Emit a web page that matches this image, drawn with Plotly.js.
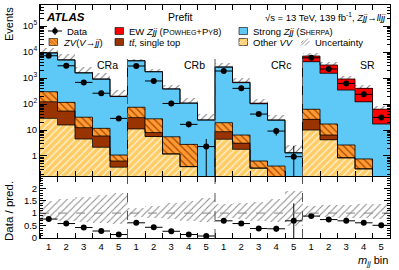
<!DOCTYPE html>
<html><head><meta charset="utf-8">
<script src="https://cdn.plot.ly/plotly-3.0.1.min.js"></script>
<style>html,body{margin:0;padding:0;background:#fff}#plot{width:399px;height:270px}</style>
</head><body><div id="plot"></div>
<script>
// ---- data ----
const binLabels = ['1','2','3','4','5','1','2','3','4','5','1','2','3','4','5','1','2','3','4','5'];
const regionNames = ['CRa','CRb','CRc','SR'];
const otherVV   = [28, 15.6, 4.5, 2.16, 0.37,  11, 5.6, 1.2, 0.39, 0,  4.4, 1.8, 0.34, 0, 0,  10, 4.2, 0.85, 0.32, 0];
const ttbar     = [94, 38, 7.8, 3.7, 0.27,     19, 2.4, 0, 0, 0,       4.2, 1.3, 0, 0, 0,     15.7, 2.2, 0, 0, 0];
const zvjj      = [175, 62, 18.7, 5.7, 0.45,   45, 19, 4.3, 2.4, 0,    10.5, 3.3, 0.3, 0.41, 0, 37, 10.6, 1.8, 0.45, 0];
const strongZjj = [8800, 4780, 1520, 880, 193, 4480, 1700, 370, 104, 24, 2580, 656, 102, 23.2, 1.3, 4190, 1500, 342, 121, 17];
const ewZjj     = [380, 200, 70, 40, 6,        140, 55, 12, 3, 0.7,    100, 28, 5, 1, 0.06,   2750, 1650, 570, 278, 46];
const dataCounts= [7200, 2960, 680, 260, 28,   2900, 770, 105, 16.5, 2.3, 1860, 400, 41, 9.1, 0.94, 6000, 2220, 620, 236, 30.6];
const dataErrUp = [85, 54, 26, 16, 5.3,        54, 28, 10, 4, 2.2,     43, 20, 6.4, 3, 1.5,   77, 47, 25, 15, 5.5];
const dataErrDn = [85, 54, 26, 16, 5.3,        54, 28, 10, 4, 2.2,     43, 20, 6.4, 3, 0.94,  77, 47, 25, 15, 5.5];
const ratio     = [0.76, 0.58, 0.42, 0.28, 0.14, 0.61, 0.43, 0.27, 0.14, 0.08, 0.69, 0.58, 0.38, 0.37, 0.69, 0.88, 0.74, 0.69, 0.61, 0.51];
const ratioErrUp= [0.01,0.01,0.02,0.02,0.03, 0.01,0.02,0.03,0.04,0.05, 0.02,0.03,0.06,0.12,0.7, 0.01,0.02,0.03,0.04,0.09];
const ratioErrDn= [0.01,0.01,0.02,0.02,0.03, 0.01,0.02,0.03,0.04,0.05, 0.02,0.03,0.06,0.12,0.69, 0.01,0.02,0.03,0.04,0.09];
const uncUp     = [0.5, 0.58, 0.65, 0.72, 0.8,  0.2, 0.3, 0.4, 0.5, 0.6,  0.35, 0.4, 0.45, 0.55, 0.9,  0.3, 0.32, 0.33, 0.35, 0.37];
const uncDn     = [0.25, 0.3, 0.35, 0.4, 0.45,  0.15, 0.2, 0.25, 0.3, 0.35,  0.2, 0.25, 0.3, 0.35, 0.5,  0.15, 0.17, 0.18, 0.2, 0.22];

// ---- helpers ----
const xs = binLabels.map((_, i) => i + 1);
const edges = xs.map(x => x - 0.5).concat([xs.length + 0.5]);
const FLOOR = 1e-3;
const comps = [
  {name:'Other VV', vals: otherVV,   color:'#ffcc66', pat:{shape:'/',  fgcolor:'#fff3d6', bgcolor:'#ffcc66', size:5, solidity:0.25}},
  {name:'ttbar',    vals: ttbar,     color:'#993300', pat:null},
  {name:'ZV',       vals: zvjj,      color:'#ff9933', pat:{shape:'\\', fgcolor:'#a84a00', bgcolor:'#ff9933', size:5, solidity:0.25}},
  {name:'Strong',   vals: strongZjj, color:'#5ec8f7', pat:null},
  {name:'EW',       vals: ewZjj,     color:'#ff0000', pat:null}
];
const traces = [];
let cum = xs.map(() => 0);
const tops = [];
comps.forEach(c => {
  const base = cum.map(v => Math.max(v, FLOOR));
  const marker = {color: c.color, line: {width: 0}};
  if (c.pat) marker.pattern = Object.assign({fillmode:'replace'}, c.pat);
  traces.push({type:'bar', x: xs, y: c.vals, base: base, width: 1, marker: marker,
    xaxis:'x', yaxis:'y', showlegend:false, hoverinfo:'skip'});
  cum = cum.map((v, i) => v + c.vals[i]);
  tops.push(cum.slice());
});
const total = cum;
// uncertainty hatch above total
traces.push({type:'bar', x: xs, y: total.map((t, i) => t * uncUp[i]), base: total, width: 1,
  marker:{color:'rgba(0,0,0,0)', line:{width:0},
    pattern:{shape:'/', fgcolor:'#777', bgcolor:'rgba(0,0,0,0)', size:5, solidity:0.2, fillmode:'replace'}},
  xaxis:'x', yaxis:'y', showlegend:false, hoverinfo:'skip'});
// step outlines
tops.forEach(t => {
  const yv = t.map(v => Math.max(v, FLOOR));
  traces.push({type:'scatter', mode:'lines', x: edges, y: yv.concat([yv[yv.length-1]]),
    line:{shape:'hv', color:'#000', width:0.8}, xaxis:'x', yaxis:'y', showlegend:false, hoverinfo:'skip'});
});
// data points
traces.push({type:'scatter', mode:'markers', x: xs, y: dataCounts, xaxis:'x', yaxis:'y',
  marker:{color:'#000', size:6},
  error_x:{type:'constant', value:0.5, width:0, thickness:1, color:'#000'},
  error_y:{type:'data', symmetric:false, array:dataErrUp, arrayminus:dataErrDn, width:0, thickness:1, color:'#000'},
  showlegend:false, hoverinfo:'skip'});
// ratio band
traces.push({type:'bar', x: xs, y: xs.map((_, i) => uncUp[i] + uncDn[i]), base: xs.map((_, i) => 1 - uncDn[i]), width: 1,
  marker:{color:'rgba(0,0,0,0)', line:{width:0},
    pattern:{shape:'/', fgcolor:'#888', bgcolor:'rgba(0,0,0,0)', size:5, solidity:0.2, fillmode:'replace'}},
  xaxis:'x2', yaxis:'y2', showlegend:false, hoverinfo:'skip'});
traces.push({type:'scatter', mode:'markers', x: xs, y: ratio, xaxis:'x2', yaxis:'y2',
  marker:{color:'#000', size:6},
  error_x:{type:'constant', value:0.5, width:0, thickness:1, color:'#000'},
  error_y:{type:'data', symmetric:false, array:ratioErrUp, arrayminus:ratioErrDn, width:0, thickness:1, color:'#000'},
  showlegend:false, hoverinfo:'skip'});

// ---- layout geometry (pixels -> paper) ----
const L = 40, R = 390, T = 5, B = 238;
const PX = p => (p - L) / (R - L);
const PY = p => (B - p) / (B - T);
const FONT = 'Liberation Sans, Arial, Helvetica, sans-serif';
const shapes = [];
const ann = [];
// region boundaries
[5.5, 10.5, 15.5].forEach(xb => {
  shapes.push({type:'line', xref:'x', yref:'paper', x0:xb, x1:xb, y0:PY(176), y1:PY(55), line:{color:'#555', width:1, dash:'dash'}});
  shapes.push({type:'line', xref:'x2', yref:'paper', x0:xb, x1:xb, y0:0, y1:PY(177), line:{color:'#555', width:1, dash:'dash'}});
});
shapes.push({type:'line', xref:'x2', yref:'y2', x0:0.5, x1:20.5, y0:1, y1:1, line:{color:'#888', width:1, dash:'dash'}});
// region labels
const regionLabelX = [107, 194, 281, 367];
regionNames.forEach((r, i) => ann.push({xref:'paper', yref:'paper', x:PX(regionLabelX[i]), y:PY(65), text:r,
  showarrow:false, xanchor:'center', yanchor:'middle', font:{family:FONT, size:10.5, color:'#000'}}));
// header texts
ann.push({xref:'paper', yref:'paper', x:PX(44), y:PY(17), text:'<b><i>ATLAS</i></b>', showarrow:false, xanchor:'left', yanchor:'middle', font:{family:FONT, size:11.5, color:'#000'}});
ann.push({xref:'paper', yref:'paper', x:PX(180), y:PY(17), text:'Prefit', showarrow:false, xanchor:'center', yanchor:'middle', font:{family:FONT, size:10.5, color:'#000'}});
ann.push({xref:'paper', yref:'paper', x:PX(388), y:PY(17), text:'√s = 13 TeV, 139 fb<sup>-1</sup>, <i>Zjj</i>→<i>lljj</i>', showarrow:false, xanchor:'right', yanchor:'middle', font:{family:FONT, size:9.5, color:'#000'}});
// legend
const legRows = [31, 42];
const legItems = [
  {kind:'data', x:48, row:0, text:'Data'},
  {kind:'box', x:115, row:0, color:'#ff0000', text:'EW <i>Zjj</i> (P<span style="font-size:7px">OWHEG</span>+P<span style="font-size:7px">Y</span>8)'},
  {kind:'box', x:239, row:0, color:'#5ec8f7', text:'Strong <i>Zjj</i> (S<span style="font-size:7px">HERPA</span>)'},
  {kind:'box', x:49, row:1, color:'#ff9933', hatch:'\\', hcol:'#a84a00', text:'<i>ZV</i>(<i>V</i>→<i>jj</i>)'},
  {kind:'box', x:115, row:1, color:'#993300', text:'<i>t</i><i>t̄</i>, single top'},
  {kind:'box', x:239, row:1, color:'#ffcc66', hatch:'/', hcol:'#fff3d6', text:'Other <i>VV</i>'},
  {kind:'hatch', x:301, row:1, hcol:'#777', text:'Uncertainty'}
];
legItems.forEach(it => {
  const yc = legRows[it.row];
  let tx;
  if (it.kind === 'data') {
    shapes.push({type:'line', xref:'paper', yref:'paper', x0:PX(48), x1:PX(62), y0:PY(yc), y1:PY(yc), line:{color:'#000', width:1}});
    shapes.push({type:'line', xref:'paper', yref:'paper', x0:PX(55), x1:PX(55), y0:PY(yc-4), y1:PY(yc+4), line:{color:'#000', width:1}});
    shapes.push({type:'circle', xref:'paper', yref:'paper', x0:PX(52.5), x1:PX(57.5), y0:PY(yc-2.5), y1:PY(yc+2.5), fillcolor:'#000', line:{color:'#000', width:0.5}});
    tx = 65;
  } else {
    const x0 = it.x, x1 = it.x + 8.5, y0 = yc - 3.5, y1 = yc + 3.5;
    if (it.kind === 'box') {
      shapes.push({type:'rect', xref:'paper', yref:'paper', x0:PX(x0), x1:PX(x1), y0:PY(y1), y1:PY(y0), fillcolor:it.color, line:{color:'#000', width:0.6}});
    }
    if (it.hatch || it.kind === 'hatch') {
      const dir = it.hatch || '/';
      const segs = dir === '/' ?
        [[x0, y1-2.5, x0+2.5, y1-5], [x0, y1, x0+7, y0], [x0+4, y1, x1, y1-4.5]] :
        [[x0, y0+2.5, x0+2.5, y0+5], [x0, y0, x0+7, y1], [x0+4, y0, x1, y0+4.5]];
      segs.forEach(s => shapes.push({type:'line', xref:'paper', yref:'paper', x0:PX(s[0]), y0:PY(s[1]), x1:PX(s[2]), y1:PY(s[3]), line:{color:it.hcol, width:0.8}}));
    }
    tx = x1 + 3.5;
  }
  ann.push({xref:'paper', yref:'paper', x:PX(tx), y:PY(yc), text:it.text, showarrow:false, xanchor:'left', yanchor:'middle', font:{family:FONT, size:9.5, color:'#000'}});
});
// axis titles
ann.push({xref:'paper', yref:'paper', x:PX(9), y:PY(5), text:'Events', textangle:-90, showarrow:false, xanchor:'center', yanchor:'top', font:{family:FONT, size:11, color:'#000'}});
ann.push({xref:'paper', yref:'paper', x:PX(9), y:PY(179), text:'Data / pred.', textangle:-90, showarrow:false, xanchor:'center', yanchor:'top', font:{family:FONT, size:11.5, color:'#000'}});
ann.push({xref:'paper', yref:'paper', x:PX(390), y:PY(261), text:'<i>m</i><sub><i>jj</i></sub> bin', showarrow:false, xanchor:'right', yanchor:'middle', font:{family:FONT, size:11, color:'#000'}});

const axBase = {showline:true, linecolor:'#000', linewidth:1, mirror:'allticks', zeroline:false, showgrid:false,
  tickfont:{family:FONT, size:9.5, color:'#000'}, tickcolor:'#000'};
const layout = {
  width:399, height:270, margin:{l:L, r:399-R, t:T, b:270-B}, paper_bgcolor:'#fff', plot_bgcolor:'#fff',
  barmode:'overlay', bargap:0, showlegend:false, font:{family:FONT, color:'#000'},
  xaxis: Object.assign({}, axBase, {anchor:'y', domain:[0,1], range:[0.5, 20.5], tickvals:xs, ticktext:binLabels, ticks:'', showticklabels:false,
    minor:{ticks:'inside', ticklen:5, tick0:0.5, dtick:1, tickcolor:'#000', showgrid:false}}),
  yaxis: Object.assign({}, axBase, {anchor:'x', type:'log', domain:[PY(176), 1], range:[-0.77, 5.81],
    tickvals:[1,10,100,1e3,1e4,1e5], ticktext:['1','10','10<sup>2</sup>','10<sup>3</sup>','10<sup>4</sup>','10<sup>5</sup>'],
    ticks:'inside', ticklen:7, minor:{ticks:'inside', ticklen:3.5, dtick:'D1', tickcolor:'#000', showgrid:false}}),
  xaxis2: Object.assign({}, axBase, {anchor:'y2', domain:[0,1], range:[0.5, 20.5], tickvals:xs, ticktext:binLabels, ticks:'',
    minor:{ticks:'inside', ticklen:5, tick0:0.5, dtick:1, tickcolor:'#000', showgrid:false}}),
  yaxis2: Object.assign({}, axBase, {anchor:'x2', domain:[0, PY(177)], range:[0, 2.45],
    tickvals:[0,0.5,1,1.5,2], ticktext:['0','0.5','1','1.5','2'], ticks:'inside', ticklen:6,
    minor:{ticks:'inside', ticklen:3, dtick:0.1, tickcolor:'#000', showgrid:false}}),
  shapes: shapes, annotations: ann
};
Plotly.newPlot('plot', traces, layout, {staticPlot:true, displayModeBar:false});
</script></body></html>
